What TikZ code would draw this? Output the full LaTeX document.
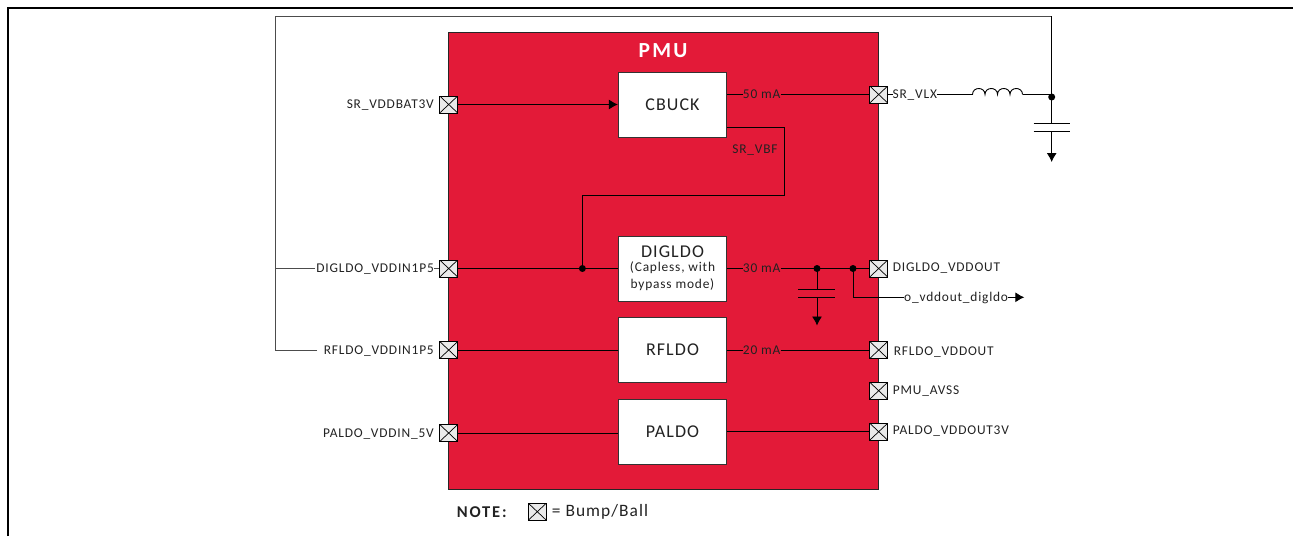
\documentclass[tikz,border=0pt]{standalone}
\usepackage{fontspec}
\setmainfont{Carlito}
\newfontfamily\spaced[LetterSpace=6]{Carlito}
\newfontfamily\wider[LetterSpace=11]{Carlito}
\usetikzlibrary{arrows.meta,calc}
\definecolor{pmured}{HTML}{E31A38}
\definecolor{bumpgray}{HTML}{EAEAEA}
\definecolor{inkc}{HTML}{222222}
\tikzset{
  wire/.style={draw=black,line width=0.9pt},
  grayw/.style={draw=black!70,line width=0.9pt},
  tipped/.style={wire,-{Latex[length=9pt,width=10pt]}},
  block/.style={draw=black!80,fill=white,line width=0.9pt,minimum width=108.4pt,minimum height=65pt,inner sep=0pt,align=center,text=inkc,font=\spaced\fontsize{18}{20}\selectfont},
  bumpbox/.style={draw=black,fill=bumpgray,line width=0.9pt,minimum width=18pt,minimum height=17pt,inner sep=0pt,
    path picture={\draw[black,line width=0.7pt] (path picture bounding box.north west)--(path picture bounding box.south east) (path picture bounding box.south west)--(path picture bounding box.north east);}},
  lab/.style={inner sep=0pt,text=inkc,text height=8.5pt,text depth=0pt,font=\spaced\fontsize{13.4}{15}\selectfont},
  dotn/.style={circle,fill=black,inner sep=0pt,minimum size=7pt},
}
\begin{document}
\begin{tikzpicture}[x=1pt,y=-1pt]
\useasboundingbox (0,0) rectangle (1293,536);
% page frame
\coordinate (fa) at (8,536);
\coordinate (fb) at (8,8);
\coordinate (fc) at (1293,8);
\draw[black,line width=2pt] (fa)--(fb)--(fc);
% PMU
\node[draw=black!85,fill=pmured,line width=0.9pt,minimum width=430.2pt,minimum height=457pt,inner sep=0pt] (pmu) at (663.6,260.5) {};
\node[inner sep=0pt,text=white,font=\wider\bfseries\fontsize{21.5}{24}\selectfont] (pmut) at (663,51) {PMU};
% blocks
\node[block] (cbuck) at (672.5,105.2) {CBUCK};
\node[block] (digldo) at (672.5,268.5) {};
\node[inner sep=0pt,text=inkc,font=\spaced\fontsize{18}{20}\selectfont] (digt) at (672.5,251.5) {DIGLDO};
\node[inner sep=0pt,text=inkc,align=center,font=\spaced\fontsize{13.4}{17.3}\selectfont] (digs) at (672.5,276.5) {(Capless, with\\bypass mode)};
\node[block] (rfldo) at (672.5,350.2) {RFLDO};
\node[block] (paldo) at (672.5,431.5) {PALDO};
% bumps
\node[bumpbox] (bvdd) at (448.7,104.5) {};
\node[bumpbox] (bdig) at (448.7,268.5) {};
\node[bumpbox] (brf) at (448.7,350) {};
\node[bumpbox] (bpa) at (448.7,433) {};
\node[bumpbox] (bvlx) at (878.7,94.5) {};
\node[bumpbox] (bdo) at (878.7,268.5) {};
\node[bumpbox] (bro) at (878.7,350) {};
\node[bumpbox] (bav) at (878.7,390.7) {};
\node[bumpbox] (bpo) at (878.7,431.7) {};
\node[bumpbox] (bnote) at (537.3,511.7) {};
% pin labels
\node[lab,anchor=east] (lvdd) at (434,104) {SR\_VDDBAT3V};
\node[lab,anchor=east] (ldig) at (434,268) {DIGLDO\_VDDIN1P5};
\node[lab,anchor=east] (lrf) at (434,350) {RFLDO\_VDDIN1P5};
\node[lab,anchor=east] (lpa) at (434,433) {PALDO\_VDDIN\_5V};
\node[lab,anchor=west] (lvlx) at (892.5,94) {SR\_VLX};
\node[lab,anchor=west] (ldo) at (892.7,267.7) {DIGLDO\_VDDOUT};
\node[lab,anchor=west] (lro) at (893.7,351.5) {RFLDO\_VDDOUT};
\node[lab,anchor=west] (lav) at (892.7,390) {PMU\_AVSS};
\node[lab,anchor=west] (lpo) at (892.7,430.7) {PALDO\_VDDOUT3V};
\node[lab] (l50) at (761.7,94) {50 mA};
\node[lab] (l30) at (761.7,268) {30 mA};
\node[lab] (l20) at (761.7,350) {20 mA};
\node[lab] (lvbf) at (755,149) {SR\_VBF};
\node[lab,anchor=west] (lout) at (904,297.3) {o\_vddout\_digldo};
\node[inner sep=0pt,anchor=west,text=inkc,font=\wider\bfseries\fontsize{16.5}{18}\selectfont] (lnote) at (456.7,512.5) {NOTE:};
\node[inner sep=0pt,anchor=west,text=inkc,font=\spaced\fontsize{17.4}{19}\selectfont] (lball) at (551.7,511.5) {= Bump/Ball};
% left side connectors
\draw[tipped] (bvdd.east) -- (cbuck.west |- bvdd.east);
\draw[wire] (bdig.east) -- (digldo.west |- bdig.east);
\draw[wire] (brf.east) -- (rfldo.west |- brf.east);
\draw[wire] (bpa.east) -- (paldo.west |- bpa.east);
\draw[grayw] (ldig.east |- bdig.west) -- (bdig.west);
% outer loop
\coordinate (loopl) at (275.5,350);
\coordinate (loopm) at (275.5,268.5);
\coordinate (looptl) at (275.5,16);
\coordinate (looptr) at (1051.7,16);
\coordinate (lrfend) at (317,350);
\coordinate (ldigend) at (314.5,268.5);
\draw[grayw] (lrfend) -- (loopl) -- (looptl) -- (looptr);
\draw[grayw] (loopm) -- (ldigend);
% CBUCK outputs
\draw[wire] (cbuck.east |- bvlx.west) -- (l50.west |- bvlx.west);
\draw[wire] (l50.east |- bvlx.west) -- (bvlx.west);
\node[dotn] (ddig) at (582.4,268.5) {};
\coordinate (vbf1) at (784.6,127.3);
\coordinate (vbf2) at (784.6,195.7);
\draw[wire] (cbuck.east |- vbf1) -- (vbf1) -- (vbf2) -| (ddig.center);
% SR_VLX network
\node[dotn] (dvlx) at (1051.7,97) {};
\coordinate (cap1t) at (1051.7,123);
\coordinate (cap1b) at (1051.7,131.5);
\coordinate (gnd1) at (1051.7,162);
\coordinate (il) at (972.5,94.5);
\coordinate (ir) at (1022.5,94.5);
\draw[wire] (bvlx.east) -- (lvlx.west |- bvlx.east);
\draw[wire] (lvlx.east |- il) -- (il);
\draw[wire] (il) .. controls +(0,-8) and +(0,-8) .. ++(12.5,0) .. controls +(0,-8) and +(0,-8) .. ++(12.5,0) .. controls +(0,-8) and +(0,-8) .. ++(12.5,0) .. controls +(0,-8) and +(0,-8) .. (ir);
\draw[wire] (ir) -- (dvlx.center |- ir);
\draw[wire] (looptr) -- (cap1t);
\draw[wire] (1033.7,123) -- (1070,123);
\draw[wire] (1033.7,131.5) -- (1070,131.5);
\draw[tipped] (cap1b) -- (gnd1);
% DIGLDO output network
\node[dotn] (dc) at (817,268.5) {};
\node[dotn] (dn) at (853,268.5) {};
\coordinate (cap2t) at (817,289);
\coordinate (cap2b) at (817,297.3);
\coordinate (gnd2) at (817,325.5);
\draw[wire] (digldo.east) -- (l30.west |- digldo.east);
\draw[wire] (l30.east |- bdo.west) -- (bdo.west);
\draw[wire] (dc.center) -- (cap2t);
\draw[wire] (798.3,289) -- (835,289);
\draw[wire] (798.3,297.3) -- (835,297.3);
\draw[tipped] (cap2b) -- (gnd2);
\draw[wire] (dn.center) |- (lout.west);
\coordinate (outtip) at (1024.3,297.3);
\draw[tipped] (lout.east) -- (outtip);
% RF and PA outputs
\draw[wire] (rfldo.east |- bro.west) -- (l20.west |- bro.west);
\draw[wire] (l20.east |- bro.west) -- (bro.west);
\draw[wire] (paldo.east |- bpo.west) -- (bpo.west);
\end{tikzpicture}
\end{document}
